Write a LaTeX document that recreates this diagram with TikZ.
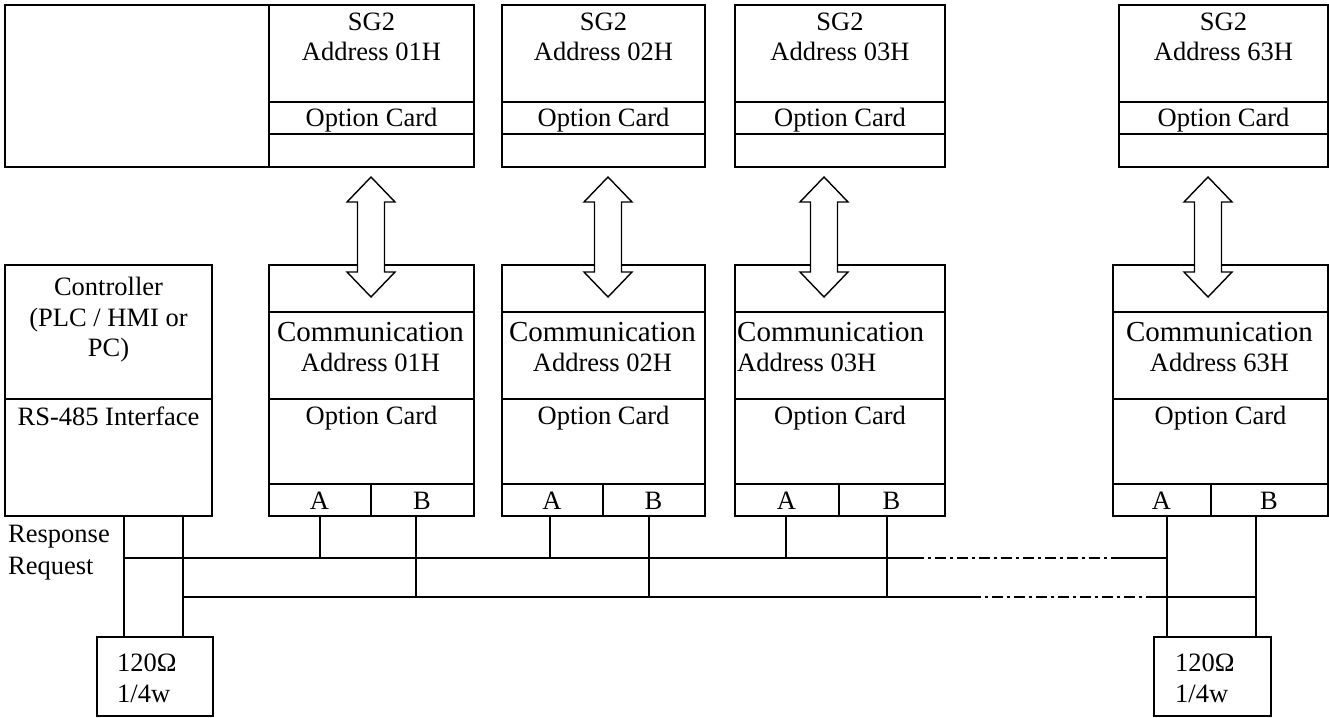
\documentclass[tikz,border=0pt]{standalone}
\usepackage{fontspec}
\setmainfont{Liberation Serif}
\tikzset{
    unitbox/.style={draw=black, line width=2pt, rectangle, inner sep=0pt, anchor=north west},
    divider/.style={draw=black, line width=2pt},
    wire/.style={draw=black, line width=1.6pt},
    dashdot/.style={draw=black, line width=1.6pt, dash pattern=on 11pt off 4pt on 3pt off 4pt},
    txt/.style={inner sep=0pt, align=center, font=\fontsize{26.5}{30.5}\selectfont},
    linkarrow/.pic={
        \draw [line width=1.4pt, fill=white] (0,-60) -- (24,-35) -- (13.5,-35) -- (13.5,35) -- (24,35) -- (0,60)
            -- (-24,35) -- (-13.5,35) -- (-13.5,-35) -- (-24,-35) -- cycle;
    }
}
\begin{document}
\begin{tikzpicture}[x=1pt, y=-1pt]
    \useasboundingbox (0,0) rectangle (1329,717);

    \node [unitbox, minimum width=264pt, minimum height=162pt] (host) at (4,4) {};

    \foreach \id/\sx/\sw/\bx/\bw/\ab/\xa/\xb/\ax/\tx/\tan/\tal in {
        01/268/205/268/205/371/320/416/371/370.5/north/center,
        02/501/203/501/203/603/550/649/608/602.5/north/center,
        03/734/210/734/210/839/786/887/824/737/north west/left,
        63/1118/209/1112/215/1211/1167/1256/1208/1219.5/north/center}{
        \node [unitbox, minimum width=\sw pt, minimum height=162pt] (sg\id) at (\sx,4) {};
        \draw [divider] (sg\id.west |- 0,102) -- (sg\id.east |- 0,102);
        \draw [divider] (sg\id.west |- 0,134) -- (sg\id.east |- 0,134);
        \node [txt, anchor=north] (sgt\id) at (sg\id.north |- 0,12.5) {SG2\\Address \id H};
        \node [txt, anchor=base] (sgo\id) at (sg\id.north |- 0,126) {Option Card};

        \node [unitbox, minimum width=\bw pt, minimum height=251pt] (cm\id) at (\bx,264) {};
        \foreach \dy in {312,399,484}
            \draw [divider] (cm\id.west |- 0,\dy) -- (cm\id.east |- 0,\dy);
        \draw [divider] (\ab,484) -- (cm\id.south -| \ab,0);
        \node [txt, anchor=\tan, align=\tal] (cmt\id) at (\tx,322) {{\fontsize{29}{30.5}\selectfont Communication}\\Address \id H};
        \node [txt, anchor=base] (cmo\id) at (cm\id.north |- 0,424) {Option Card};
        \node [txt, anchor=base] (ta\id) at ({(\bx+\ab)/2},509) {A};
        \node [txt, anchor=base] (tb\id) at ({(\ab+\bx+\bw)/2},509) {B};

        \pic (lk\id) at (\ax,237) {linkarrow};

        \coordinate (pa\id) at (\xa,515);
        \coordinate (pb\id) at (\xb,515);
    }

    \node [unitbox, minimum width=207pt, minimum height=251pt] (ctl) at (4,264) {};
    \draw [divider] (ctl.west |- 0,399) -- (ctl.east |- 0,399);
    \node [txt, anchor=north] (ctlt) at (ctl.north |- 0,277) {Controller\\(PLC / HMI or\\PC)};
    \node [txt, anchor=base] (ctli) at (ctl.north |- 0,425) {RS-485 Interface};

    \node [txt, anchor=base west] (rsplbl) at (8,542) {Response};
    \node [txt, anchor=base west] (reqlbl) at (8,574) {Request};

    \node [unitbox, minimum width=116pt, minimum height=79pt] (rl) at (96,636) {};
    \node [txt, anchor=north west, align=left] (rlt) at (117,654) {120Ω\\1/4w};
    \node [unitbox, minimum width=117pt, minimum height=79pt] (rr) at (1153,636) {};
    \node [txt, anchor=north west, align=left] (rrt) at (1175,654) {120Ω\\1/4w};

    \coordinate (ctla) at (124,515);
    \coordinate (ctlb) at (183,515);
    \coordinate (rsp) at (124,558);
    \coordinate (req) at (183,597);
    \coordinate (rspgap) at (913,558);
    \coordinate (rspend) at (1115,558);
    \coordinate (reqgap) at (970,597);
    \coordinate (reqend) at (1150,597);

    \draw [wire] (ctla) -- (rl.north -| ctla);
    \draw [wire] (ctlb) -- (rl.north -| ctlb);
    \draw [wire] (pa63) -- (rr.north -| pa63);
    \draw [wire] (pb63) -- (rr.north -| pb63);

    \draw [wire] (rsp) -- (rspgap);
    \draw [dashdot] (rspgap) -- (rspend);
    \draw [wire] (rspend) -- (pa63 |- rsp);
    \draw [wire] (req) -- (reqgap);
    \draw [dashdot] (reqgap) -- (reqend);
    \draw [wire] (reqend) -- (pb63 |- req);

    \foreach \id in {01,02,03}{
        \draw [wire] (pa\id) -- (pa\id |- rsp);
        \draw [wire] (pb\id) -- (pb\id |- req);
    }
\end{tikzpicture}
\end{document}
